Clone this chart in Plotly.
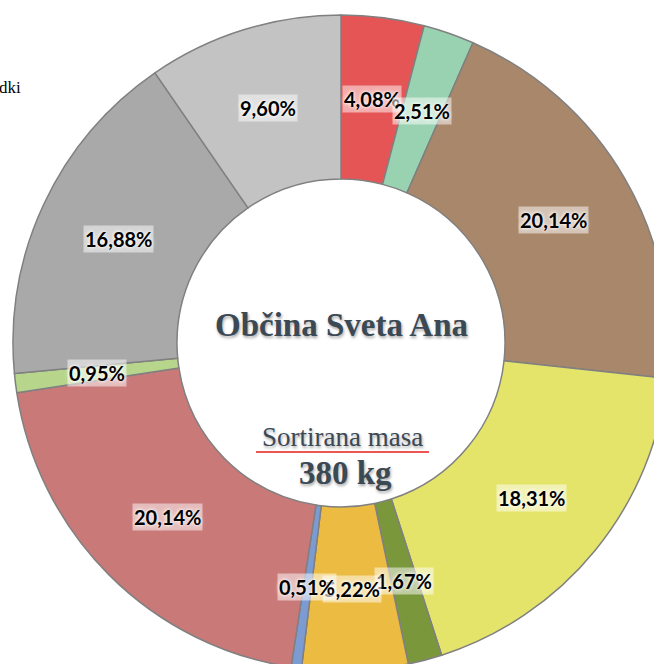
import math
import plotly.graph_objects as go

labels = ["Kategorija 1", "Kategorija 2", "Kategorija 3", "Kategorija 4", "Kategorija 5",
          "Kategorija 6", "Kategorija 7", "Kategorija 8", "Kategorija 9", "Kategorija 10",
          "Kategorija 11"]
values = [4.08, 2.51, 20.14, 18.31, 1.67, 5.22, 0.51, 20.14, 0.95, 16.88, 9.60]
text_labels = ["4,08%", "2,51%", "20,14%", "18,31%", "1,67%", "5,22%", "0,51%",
               "20,14%", "0,95%", "16,88%", "9,60%"]
colors = ["#e65555", "#98d2b0", "#a8876a", "#e5e46a", "#7a973c", "#ecbc42",
          "#7b9bd2", "#ca7979", "#b7d68c", "#a9a9a9", "#c3c3c3"]

W, H = 700, 700
cx, cy, R = 341, 343, 328
HOLE = 0.5


def px(x):
    return x / W


def py(y):
    return 1 - y / H


fig = go.Figure(go.Pie(
    labels=labels,
    values=values,
    textinfo="none",
    sort=False,
    direction="clockwise",
    rotation=0,
    hole=HOLE,
    marker=dict(colors=colors, line=dict(color="#808080", width=1.5)),
    domain=dict(x=[px(cx - R), px(cx + R)], y=[py(cy + R), py(cy - R)]),
    showlegend=False,
    hovertext=text_labels,
    hoverinfo="label+text",
))

# value labels placed at the middle of each ring segment (derived from the data)
total = sum(values)
r_mid = R * (1 + HOLE) / 2
cum = 0.0
for v, t in zip(values, text_labels):
    mid = (cum + v / 2) / total
    cum += v
    ang = 2 * math.pi * mid
    lx = cx + r_mid * math.sin(ang)
    ly = cy - r_mid * math.cos(ang)
    fig.add_annotation(
        x=px(lx), y=py(ly), xref="paper", yref="paper", showarrow=False,
        xanchor="center", yanchor="middle",
        text="<b>" + t + "</b>",
        bgcolor="rgba(255,255,255,0.5)", borderpad=1,
        font=dict(family="Lato, 'Noto Sans', sans-serif", size=20, color="#000000",
                  shadow="0 0 3px #ffffff, 0 0 5px #ffffff"),
    )

serif = "'Liberation Serif', 'DejaVu Serif', serif"
shadow = "1px 2px 3px rgba(0,0,0,0.35)"
fig.add_annotation(x=px(341), y=py(325), xref="paper", yref="paper", showarrow=False,
                   xanchor="center", yanchor="middle",
                   text="<b>Občina Sveta Ana</b>",
                   font=dict(family=serif, size=33, color="#3b4955", shadow=shadow))
fig.add_annotation(x=px(342), y=py(437), xref="paper", yref="paper", showarrow=False,
                   xanchor="center", yanchor="middle",
                   text="Sortirana masa",
                   font=dict(family=serif, size=27, color="#3b4955", shadow=shadow))
fig.add_annotation(x=px(345), y=py(473), xref="paper", yref="paper", showarrow=False,
                   xanchor="center", yanchor="middle",
                   text="<b>380 kg</b>",
                   font=dict(family=serif, size=33, color="#3b4955", shadow=shadow))
fig.add_annotation(x=px(23), y=py(88), xref="paper", yref="paper", showarrow=False,
                   xanchor="right", yanchor="middle", text="dki",
                   font=dict(family=serif, size=17, color="#000000"))
fig.add_shape(type="line", xref="paper", yref="paper",
              x0=px(256), x1=px(429), y0=py(452), y1=py(452),
              line=dict(color="#e81c1c", width=1.5))

fig.update_layout(
    width=W, height=H,
    margin=dict(l=0, r=0, t=0, b=0),
    paper_bgcolor="white",
    plot_bgcolor="white",
)

fig.write_html("out.html",
               config={"displayModeBar": False},
               post_script="document.body.style.margin='0';"
                           "document.body.style.overflow='hidden';"
                           "document.documentElement.style.overflow='hidden';")
